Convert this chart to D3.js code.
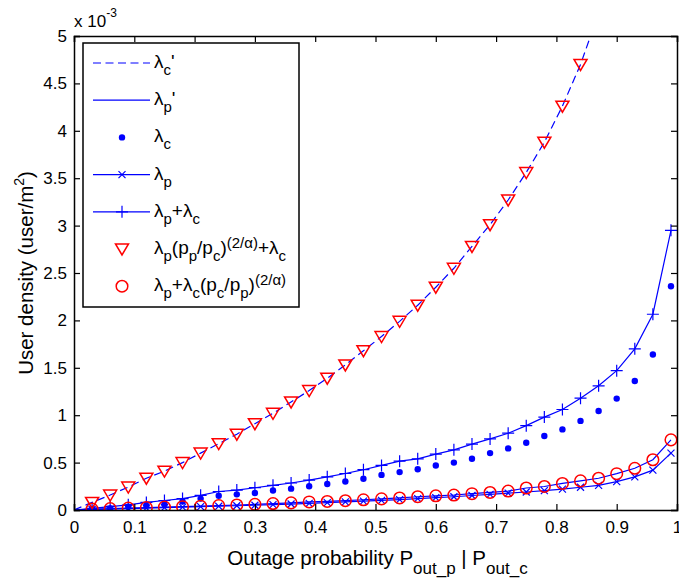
<!DOCTYPE html>
<html>
<head>
<meta charset="utf-8">
<script src="https://cdn.jsdelivr.net/npm/d3@7"></script>
<style>
  body { margin: 0; background: #fff; }
  text { font-family: "Liberation Sans", Arial, sans-serif; fill: #000; }
</style>
</head>
<body>
<svg id="chart" width="679" height="580"></svg>
<script>
// outage probability grid (first point is the origin, used by the lines only)
const outage = [0, 0.03, 0.06, 0.09, 0.12, 0.15, 0.18, 0.21, 0.24, 0.27, 0.30, 0.33,
  0.36, 0.39, 0.42, 0.45, 0.48, 0.51, 0.54, 0.57, 0.60, 0.63, 0.66, 0.69, 0.72,
  0.75, 0.78, 0.81, 0.84, 0.87, 0.90, 0.93, 0.96, 0.99];

// user density, in units of 1e-3 user/m^2
const lambdaCPrime = [0, 0.08, 0.158, 0.242, 0.335, 0.41, 0.50, 0.60, 0.70, 0.80, 0.91,
  1.02, 1.14, 1.26, 1.39, 1.53, 1.68, 1.83, 1.99, 2.16, 2.35, 2.55, 2.78, 3.01, 3.27,
  3.56, 3.88, 4.26, 4.70];
const lambdaCPrimeX = [0, 0.03, 0.06, 0.09, 0.12, 0.15, 0.18, 0.21, 0.24, 0.27, 0.30,
  0.33, 0.36, 0.39, 0.42, 0.45, 0.48, 0.51, 0.54, 0.57, 0.60, 0.63, 0.66, 0.69, 0.72,
  0.75, 0.78, 0.81, 0.84, 0.87];
lambdaCPrime.push(5.24);  // leaves the axes just past 0.85

const lambdaC = [0, 0.01, 0.02, 0.035, 0.045, 0.06, 0.09, 0.12, 0.15, 0.165, 0.18,
  0.205, 0.225, 0.25, 0.275, 0.30, 0.33, 0.37, 0.40, 0.43, 0.47, 0.50, 0.54, 0.60,
  0.65, 0.71, 0.78, 0.85, 0.94, 1.045, 1.175, 1.36, 1.64, 2.36];

const lambdaP = [0, 0.005, 0.01, 0.015, 0.02, 0.025, 0.03, 0.035, 0.04, 0.045, 0.05,
  0.057, 0.063, 0.07, 0.077, 0.085, 0.093, 0.102, 0.11, 0.12, 0.13, 0.14, 0.153,
  0.165, 0.178, 0.19, 0.205, 0.22, 0.24, 0.26, 0.30, 0.35, 0.42, 0.60];

const lambdaSum = [0, 0.018, 0.035, 0.055, 0.08, 0.10, 0.12, 0.155, 0.195, 0.21, 0.235,
  0.26, 0.285, 0.316, 0.35, 0.385, 0.425, 0.47, 0.515, 0.54, 0.59, 0.635, 0.695,
  0.75, 0.81, 0.89, 0.98, 1.06, 1.18, 1.31, 1.47, 1.70, 2.065, 2.95];

// circles (and the λp' line through them)
const lambdaPPrime = [0, 0.01, 0.015, 0.02, 0.025, 0.03, 0.035, 0.04, 0.047, 0.053, 0.06,
  0.068, 0.075, 0.085, 0.09, 0.098, 0.108, 0.117, 0.127, 0.14, 0.15, 0.158, 0.172,
  0.185, 0.20, 0.232, 0.248, 0.28, 0.307, 0.335, 0.383, 0.44, 0.53, 0.74];

const xTicks = [0, 0.1, 0.2, 0.3, 0.4, 0.5, 0.6, 0.7, 0.8, 0.9, 1];
const yTicks = [0, 0.5, 1, 1.5, 2, 2.5, 3, 3.5, 4, 4.5, 5];

const blue = '#0000ff';
const red = '#ff0000';

const margin = { top: 36, right: 2, bottom: 70, left: 74 };
const width = 679 - margin.left - margin.right;
const height = 580 - margin.top - margin.bottom;

const svg = d3.select('#chart');
const g = svg.append('g').attr('transform', `translate(${margin.left},${margin.top})`);

const x = d3.scaleLinear().domain([0, 1]).range([0, width]);
const y = d3.scaleLinear().domain([0, 5]).range([height, 0]);

g.append('clipPath').attr('id', 'clip')
  .append('rect').attr('width', width).attr('height', height);

const plot = g.append('g').attr('clip-path', 'url(#clip)');

const line = d3.line().x(d => x(d[0])).y(d => y(d[1]));
const pts = (xv, yv) => yv.map((v, i) => [xv[i], v]);

// lines
plot.append('path').datum(pts(lambdaCPrimeX, lambdaCPrime))
  .attr('d', line).attr('fill', 'none').attr('stroke', blue)
  .attr('stroke-width', 1.2).attr('stroke-dasharray', '8,4.5');
plot.append('path').datum(pts(outage, lambdaPPrime))
  .attr('d', line).attr('fill', 'none').attr('stroke', blue).attr('stroke-width', 1.2);
plot.append('path').datum(pts(outage, lambdaP))
  .attr('d', line).attr('fill', 'none').attr('stroke', blue).attr('stroke-width', 1.2);
plot.append('path').datum(pts(outage, lambdaSum))
  .attr('d', line).attr('fill', 'none').attr('stroke', blue).attr('stroke-width', 1.2);

// marker shapes
function drawMarker(sel, type) {
  if (type === 'dot') {
    sel.append('circle').attr('r', 3.2).attr('fill', blue);
  } else if (type === 'x') {
    sel.append('path').attr('d', 'M-3.5,-3.5L3.5,3.5M-3.5,3.5L3.5,-3.5')
      .attr('stroke', blue).attr('stroke-width', 1.2).attr('fill', 'none');
  } else if (type === 'plus') {
    sel.append('path').attr('d', 'M-6,0L6,0M0,-6L0,6')
      .attr('stroke', blue).attr('stroke-width', 1.2).attr('fill', 'none');
  } else if (type === 'tri') {
    sel.append('path').attr('d', 'M-6.5,-5L6.5,-5L0,6Z')
      .attr('stroke', red).attr('stroke-width', 1.5).attr('fill', 'none');
  } else if (type === 'circ') {
    sel.append('circle').attr('r', 5.8)
      .attr('stroke', red).attr('stroke-width', 1.5).attr('fill', 'none');
  }
}

function markers(xv, yv, type) {
  const data = pts(xv, yv).slice(1);
  plot.append('g').selectAll('g').data(data).join('g')
    .attr('transform', d => `translate(${x(d[0])},${y(d[1])})`)
    .each(function () { drawMarker(d3.select(this), type); });
}

markers(outage, lambdaC, 'dot');
markers(outage, lambdaP, 'x');
markers(outage, lambdaSum, 'plus');
markers(lambdaCPrimeX.slice(0, lambdaCPrime.length - 1), lambdaCPrime.slice(0, -1), 'tri');
markers(outage, lambdaPPrime, 'circ');

// axes
const tickLen = 6;
g.append('g').attr('transform', `translate(0,${height})`)
  .call(d3.axisBottom(x).tickValues(xTicks).tickSize(-tickLen).tickPadding(11)
    .tickFormat(d => d3.format('')(+d.toFixed(1))));
g.append('g').call(d3.axisTop(x).tickValues(xTicks).tickSize(-tickLen).tickFormat(''));
g.append('g')
  .call(d3.axisLeft(y).tickValues(yTicks).tickSize(-tickLen).tickPadding(7)
    .tickFormat(d => String(d)));
g.append('g').attr('transform', `translate(${width},0)`)
  .call(d3.axisRight(y).tickValues(yTicks).tickSize(-tickLen).tickFormat(''));

g.selectAll('.domain').attr('stroke', '#000').attr('stroke-width', 1.5);
g.selectAll('.tick line').attr('stroke', '#000').attr('stroke-width', 1.2);
g.selectAll('.tick text').attr('font-size', 17).attr('font-family', '"Liberation Sans", Arial, sans-serif').attr('fill', '#000');

// rich text helper: parts are [text, 'n' | 'sub' | 'sup']
function rich(sel, parts, size, subSize, subShift, supShift) {
  let cur = 0;
  parts.forEach(([t, m]) => {
    const target = m === 'sub' ? subShift : m === 'sup' ? -supShift : 0;
    sel.append('tspan').attr('dy', target - cur)
      .attr('font-size', m === 'n' ? size : subSize).text(t);
    cur = target;
  });
}

// exponent label
const expo = svg.append('text').attr('x', margin.left).attr('y', 27);
rich(expo, [['x 10', 'n'], ['-3', 'sup']], 17, 12, 0, 10);

// axis titles
const xt = svg.append('text').attr('x', margin.left + width / 2 + 2).attr('y', 565)
  .attr('text-anchor', 'middle');
rich(xt, [['Outage probability P', 'n'], ['out_p', 'sub'], [' | P', 'n'], ['out_c', 'sub']], 20.5, 17, 9, 0);

const yt = svg.append('text')
  .attr('transform', `translate(33,${margin.top + height / 2}) rotate(-90)`)
  .attr('text-anchor', 'middle');
rich(yt, [['User density (user/m', 'n'], ['2', 'sup'], [')', 'n']], 20.5, 14, 0, 9);

// legend
const legendItems = [
  { type: 'dash', label: [['λ', 'n'], ['c', 'sub'], ["'", 'n']] },
  { type: 'solid', label: [['λ', 'n'], ['p', 'sub'], ["'", 'n']] },
  { type: 'dot', label: [['λ', 'n'], ['c', 'sub']] },
  { type: 'x', label: [['λ', 'n'], ['p', 'sub']] },
  { type: 'plus', label: [['λ', 'n'], ['p', 'sub'], ['+λ', 'n'], ['c', 'sub']] },
  { type: 'tri', label: [['λ', 'n'], ['p', 'sub'], ['(p', 'n'], ['p', 'sub'], ['/p', 'n'],
    ['c', 'sub'], [')', 'n'], ['(2/α)', 'sup'], ['+λ', 'n'], ['c', 'sub']] },
  { type: 'circ', label: [['λ', 'n'], ['p', 'sub'], ['+λ', 'n'], ['c', 'sub'], ['(p', 'n'],
    ['c', 'sub'], ['/p', 'n'], ['p', 'sub'], [')', 'n'], ['(2/α)', 'sup']] }
];

const legend = svg.append('g').attr('transform', 'translate(83,43)');
legend.append('rect').attr('width', 216).attr('height', 264)
  .attr('fill', '#fff').attr('stroke', '#000').attr('stroke-width', 1.5);

legendItems.forEach((item, i) => {
  const cy = 20 + i * 37.2;
  const row = legend.append('g').attr('transform', `translate(0,${cy})`);
  if (['dash', 'solid', 'x', 'plus'].includes(item.type)) {
    row.append('line').attr('x1', 10).attr('x2', 67).attr('stroke', blue)
      .attr('stroke-width', 1.2)
      .attr('stroke-dasharray', item.type === 'dash' ? '8,4.5' : null);
  }
  if (!['dash', 'solid'].includes(item.type)) {
    const m = row.append('g').attr('transform', 'translate(39,0)');
    drawMarker(m, item.type);
  }
  const t = row.append('text').attr('x', 71).attr('y', 5);
  rich(t, item.label, 19, 15, 7, 6);
});
</script>
</body>
</html>
